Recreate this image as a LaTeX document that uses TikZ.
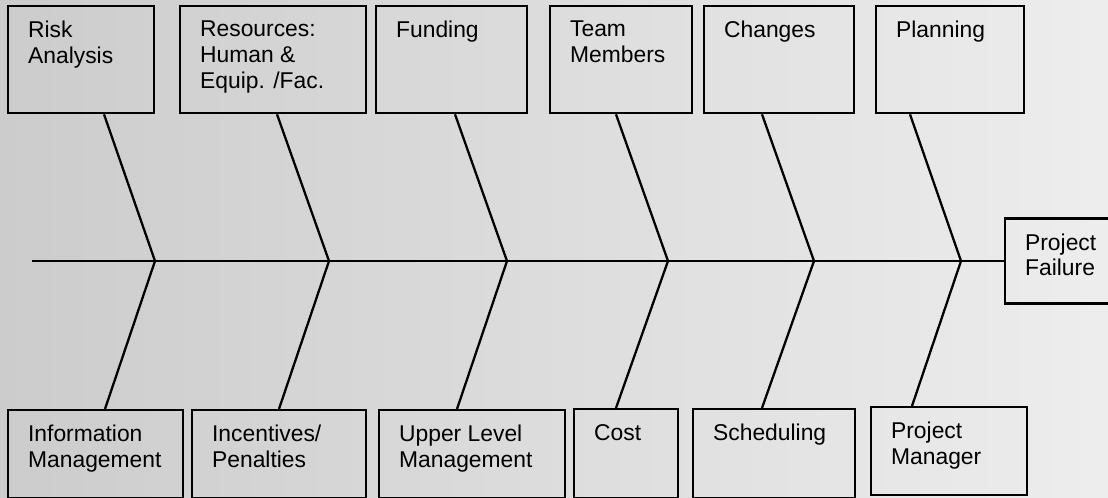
\documentclass[tikz,border=0pt]{standalone}
\usepackage{fontspec}
\setmainfont{Liberation Sans}
\usepackage{tikz}
\usetikzlibrary{calc}
\definecolor{page dark}{gray}{0.80}
\definecolor{page light}{gray}{0.93}
\newcommand{\boxtext}[3]{\parbox[c][#2][t]{#1}{\raggedright\vspace*{0.3cm}#3}}

\begin{document}
\begin{tikzpicture}[
		cause/.style = {draw, line width = 1.3pt, anchor = north west,
			inner xsep = 0.4cm, inner ysep = 0pt,
			font = \fontsize{13pt}{14.6pt}\selectfont},
		bone/.style = {line width = 1.3pt}
	]
		% page
		\useasboundingbox (0, 0) rectangle (22.16, -9.96);
		\shade[left color = page dark, right color = page light] (0, 0) rectangle (22.16, -9.96);
		% upper causes
		\node[cause] (risk) at (0.14, -0.1) {\boxtext{2.12cm}{2.14cm}{Risk\\Analysis}};
		\node[cause] (resources) at (3.58, -0.1) {\boxtext{2.92cm}{2.14cm}{Resources:\\Human \&\\Equip. /Fac.}};
		\node[cause] (funding) at (7.5, -0.1) {\boxtext{2.22cm}{2.14cm}{Funding}};
		\node[cause] (team) at (10.98, -0.1) {\boxtext{2.04cm}{2.14cm}{Team\\Members}};
		\node[cause] (changes) at (14.06, -0.1) {\boxtext{2.2cm}{2.14cm}{Changes}};
		\node[cause] (planning) at (17.5, -0.1) {\boxtext{2.16cm}{2.14cm}{Planning}};
		% lower causes
		\node[cause] (info) at (0.14, -8.18) {\boxtext{2.7cm}{1.76cm}{Information\\Management}};
		\node[cause] (incentives) at (3.82, -8.18) {\boxtext{2.68cm}{1.76cm}{Incentives/\\Penalties}};
		\node[cause] (upper) at (7.56, -8.18) {\boxtext{2.92cm}{1.76cm}{Upper Level\\Management}};
		\node[cause] (cost) at (11.46, -8.16) {\boxtext{1.28cm}{1.78cm}{Cost}};
		\node[cause] (scheduling) at (13.84, -8.16) {\boxtext{2.44cm}{1.78cm}{Scheduling}};
		\node[cause] (manager) at (17.4, -8.12) {\boxtext{2.32cm}{1.76cm}{Project\\Manager}};
		% effect
		\node[cause, anchor = west] (failure) at (20.08, -5.22) {\boxtext{1.4cm}{1.7cm}{Project\\Failure}};
		% spine
		\coordinate (tail) at (0.64, -5.22);
		\coordinate (v1) at (3.1, -5.22);
		\coordinate (v2) at (6.58, -5.22);
		\coordinate (v3) at (10.14, -5.22);
		\coordinate (v4) at (13.36, -5.22);
		\coordinate (v5) at (16.28, -5.22);
		\coordinate (v6) at (19.22, -5.22);
		\draw[bone] (tail) -- (failure);
		% bones
		\draw[bone] ($(risk.south west)+(1.94, 0)$) -- (v1) -- ($(info.north west)+(1.96, 0)$);
		\draw[bone] ($(resources.south west)+(1.96, 0)$) -- (v2) -- ($(incentives.north west)+(1.76, 0)$);
		\draw[bone] ($(funding.south west)+(1.6, 0)$) -- (v3) -- ($(upper.north west)+(1.58, 0)$);
		\draw[bone] ($(team.south west)+(1.34, 0)$) -- (v4) -- ($(cost.north west)+(0.86, 0)$);
		\draw[bone] ($(changes.south west)+(1.18, 0)$) -- (v5) -- ($(scheduling.north west)+(1.4, 0)$);
		\draw[bone] ($(planning.south west)+(0.7, 0)$) -- (v6) -- ($(manager.north west)+(0.84, 0)$);
	\end{tikzpicture}
\end{document}
